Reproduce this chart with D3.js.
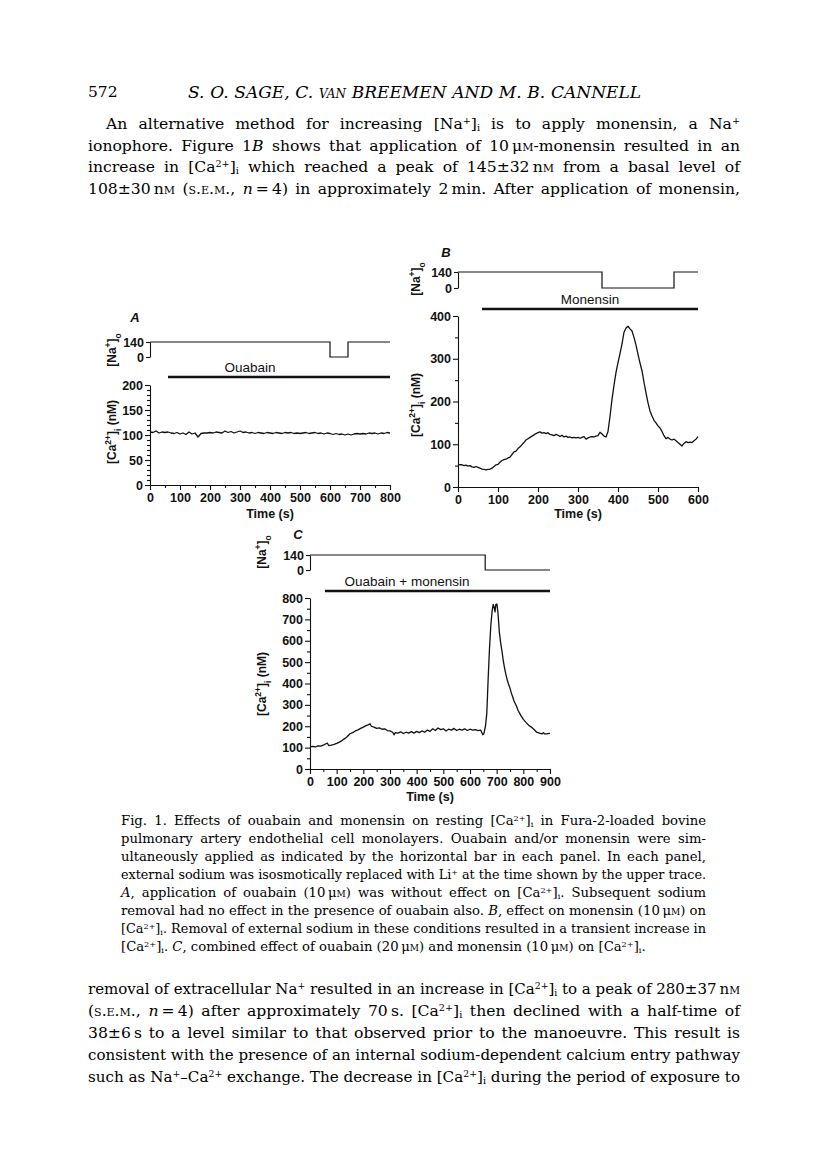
<!DOCTYPE html>
<html><head><meta charset="utf-8">
<script src="https://cdn.jsdelivr.net/npm/d3@7"></script>
<style>
body{margin:0;background:#fff;}
#page{position:relative;width:816px;height:1160px;overflow:hidden;background:#fff;}
.ln{position:absolute;white-space:nowrap;font-family:"DejaVu Serif",serif;color:#000;}
.ln > span{display:inline-block;transform-origin:0 50%;}
.sc{font-variant:small-caps;}
.sup{font-size:0.62em;vertical-align:0.5em;line-height:0;}
.sub{font-size:0.62em;vertical-align:-0.25em;line-height:0;}
svg text{font-family:"Liberation Sans",Arial,sans-serif;fill:#111;}
</style></head>
<body><div id="page"></div>
<script>
// ---------------- DATA ----------------
const caA = [[0,106],[10,105],[20,108],[30,104],[40,106],[50,105],[60,106],[70,104],[80,103],[90,105],[100,102],[110,104],[120,101],[130,106],[140,102],[150,104],[160,96],[170,103],[180,104],[190,104],[200,105],[210,104],[220,106],[230,105],[240,104],[250,108],[260,105],[270,107],[280,104],[290,106],[300,108],[310,105],[320,106],[330,104],[340,105],[350,103],[360,105],[370,104],[380,103],[390,105],[400,104],[410,103],[420,105],[430,104],[440,103],[450,105],[460,104],[470,105],[480,103],[490,104],[500,103],[510,104],[520,105],[530,103],[540,104],[550,105],[560,103],[570,104],[580,102],[590,104],[600,103],[610,101],[620,103],[630,101],[640,102],[650,100],[660,102],[670,100],[680,102],[690,103],[700,102],[710,103],[720,102],[730,104],[740,103],[750,104],[760,102],[770,104],[780,103],[790,105],[800,104]];
const caB = [[0,53],[5,52],[10,52],[15,50],[20,51],[25,49],[30,50],[35,47],[40,46],[45,48],[50,46],[55,44],[60,42],[65,41],[70,40],[75,41],[80,42],[85,44],[90,48],[95,52],[100,53],[105,58],[110,62],[115,64],[120,65],[125,68],[130,70],[135,76],[140,82],[145,84],[150,90],[155,94],[160,99],[165,104],[170,110],[175,113],[180,116],[185,119],[190,122],[195,125],[200,127],[205,129],[210,126],[215,127],[220,125],[225,127],[230,123],[235,122],[240,120],[245,123],[250,121],[255,118],[260,121],[265,117],[270,119],[275,116],[280,117],[285,115],[290,116],[295,115],[300,116],[305,114],[310,116],[315,118],[320,112],[325,115],[330,117],[335,118],[340,117],[345,119],[350,120],[355,128],[360,124],[365,119],[370,117],[375,130],[380,165],[385,205],[390,238],[395,268],[400,291],[405,312],[410,335],[415,362],[420,372],[425,376],[430,370],[435,365],[440,350],[445,332],[450,310],[455,290],[460,272],[465,245],[470,220],[475,197],[480,178],[485,166],[490,156],[495,150],[500,143],[505,138],[510,130],[515,120],[520,113],[525,116],[530,112],[535,110],[540,112],[545,108],[550,104],[555,100],[560,96],[565,102],[570,106],[575,104],[580,105],[585,104],[590,108],[595,112],[600,118]];
const caC = [[0,104],[10,106],[20,103],[30,108],[40,107],[50,112],[60,118],[65,121],[70,110],[80,112],[90,115],[100,120],[110,126],[120,133],[130,142],[140,152],[150,165],[160,170],[170,178],[180,183],[190,190],[200,196],[210,203],[220,208],[225,212],[230,200],[240,196],[250,190],[260,192],[270,186],[280,188],[290,180],[300,178],[310,172],[315,160],[320,170],[330,168],[340,174],[350,166],[360,172],[370,168],[380,175],[390,168],[400,176],[410,170],[420,178],[430,172],[440,182],[450,176],[460,188],[470,180],[480,192],[490,184],[500,188],[510,178],[520,186],[530,182],[540,190],[550,180],[560,186],[570,182],[580,188],[590,180],[600,186],[610,182],[620,184],[630,180],[640,182],[648,160],[652,165],[658,200],[663,260],[668,420],[673,560],[678,670],[683,740],[687,770],[690,760],[694,735],[697,770],[701,772],[705,730],[710,640],[715,590],[720,550],[725,505],[730,470],[735,440],[740,415],[745,395],[750,378],[755,355],[760,338],[765,318],[770,305],[775,292],[780,275],[790,252],[800,232],[810,218],[820,205],[830,196],[840,185],[850,172],[860,168],[870,164],[875,170],[880,164],[890,165],[900,167]];
// external Na+ (mM) step traces: [time, level]
const naA = [[0,140],[600,0],[660,140],[800,140]];
const naB = [[0,140],[360,0],[540,140],[600,140]];
const naC = [[0,140],[657,0],[900,0]];
// drug application bars [start, end] (s)
const barA = [60,800], barB = [60,600], barC = [56,900];
const drugA = "Ouabain", drugB = "Monensin", drugC = "Ouabain + monensin";
// tick values
const xTicksA = [0,100,200,300,400,500,600,700,800], xMinorA = [50,150,250,350,450,550,650,750];
const yTicksA = [0,50,100,150,200], yMinorA = [10,20,30,40,60,70,80,90,110,120,130,140,160,170,180,190];
const xTicksB = [0,100,200,300,400,500,600], xMinorB = [];
const yTicksB = [0,100,200,300,400], yMinorB = [50,150,250,350];
const xTicksC = [0,100,200,300,400,500,600,700,800,900], xMinorC = [50,150,250,350,450,550,650,750,850];
const yTicksC = [0,100,200,300,400,500,600,700,800], yMinorC = [50,150,250,350,450,550,650,750];

// ---------------- PAGE TEXT ----------------
const S = '\u2009';
const nM = 'n<span class="sc">m</span>', uM = 'μ<span class="sc">m</span>';
const Ca = '[Ca<span class="sup">2+</span>]<span class="sub">i</span>';
const Na = 'Na<span class="sup">+</span>';
const sem = '<span class="sc">s.e.m.</span>';
const pm = '±';
const para1 = [
 'An alternative method for increasing [Na<span class="sup">+</span>]<span class="sub">i</span> is to apply monensin, a '+Na,
 'ionophore. Figure 1<i>B</i> shows that application of 10'+S+uM+'-monensin resulted in an',
 'increase in '+Ca+' which reached a peak of 145'+pm+'32'+S+nM+' from a basal level of',
 '108'+pm+'30'+S+nM+' ('+sem+', <i>n</i>'+S+'='+S+'4) in approximately 2'+S+'min. After application of monensin,'
];
const para2 = [
 'removal of extracellular '+Na+' resulted in an increase in '+Ca+' to a peak of 280'+pm+'37'+S+nM,
 '('+sem+', <i>n</i>'+S+'='+S+'4) after approximately 70'+S+'s. '+Ca+' then declined with a half-time of',
 '38'+pm+'6'+S+'s to a level similar to that observed prior to the manoeuvre. This result is',
 'consistent with the presence of an internal sodium-dependent calcium entry pathway',
 'such as Na<span class="sup">+</span>–Ca<span class="sup">2+</span> exchange. The decrease in '+Ca+' during the period of exposure to'
];
const caption = [
 'Fig. 1. Effects of ouabain and monensin on resting '+Ca+' in Fura-2-loaded bovine',
 'pulmonary artery endothelial cell monolayers. Ouabain and/or monensin were sim-',
 'ultaneously applied as indicated by the horizontal bar in each panel. In each panel,',
 'external sodium was isosmotically replaced with Li<span class="sup">+</span> at the time shown by the upper trace.',
 '<i>A</i>, application of ouabain (10'+S+uM+') was without effect on '+Ca+'. Subsequent sodium',
 'removal had no effect in the presence of ouabain also. <i>B</i>, effect on monensin (10'+S+uM+') on',
 Ca+'. Removal of external sodium in these conditions resulted in a transient increase in',
 Ca+'. <i>C</i>, combined effect of ouabain (20'+S+uM+') and monensin (10'+S+uM+') on '+Ca+'.'
];

const page = d3.select('#page');
function addLine(html, left, cy, width, fs, justify, extra){
  const d = page.append('div').attr('class','ln')
    .style('left',left+'px').style('top',(cy-fs*0.62)+'px').style('font-size',fs+'px').style('line-height',(fs*1.2)+'px');
  if(extra) d.style('font-style',extra.italic?'italic':null);
  const sp = d.append('span').html(html);
  const node = sp.node();
  const w = node.getBoundingClientRect().width;
  if(width){
    if(w > width){ sp.style('transform','scaleX('+(width/w)+')'); }
    else if(justify){
      const n = (node.textContent.match(/ /g)||[]).length;
      if(n>0) sp.style('word-spacing',((width-w)/n)+'px');
    }
  }
  return d;
}
para1.forEach((h,i)=> addLine(h, i===0?106:88, 125+i*21.4, i===0?634:652, 15.6, true));
para2.forEach((h,i)=> addLine(h, 88, 990+i*21.8, 652, 15.6, true));
caption.forEach((h,i)=> addLine(h, 121, 821+i*18, 585, 13.2, i<caption.length-1));
addLine('572', 88, 93, null, 15.5, false);
addLine('S. O. SAGE, C. <span class="sc">van</span> BREEMEN AND M. B. CANNELL', 188, 93, 453, 17, true, {italic:true});

// ---------------- CHARTS ----------------
const svg = page.append('svg').attr('width',816).attr('height',1160)
  .style('position','absolute').style('left','0px').style('top','0px');

const panels = [
 {id:'A', xMax:800, yMax:200, left:150, right:390, bottom:485, top:385, na0:357, na140:342,
  ca:caA, na:naA, bar:barA, barY:377, drug:drugA, drugX:250,
  xTicks:xTicksA, xMinor:xMinorA, yTicks:yTicksA, yMinor:yMinorA,
  title:[135,322], naLab:[112,350], caLab:[112,432], timeLab:[270,518]},
 {id:'B', xMax:600, yMax:400, left:458, right:698, bottom:487, top:316, na0:288, na140:272,
  ca:caB, na:naB, bar:barB, barY:309, drug:drugB, drugX:590,
  xTicks:xTicksB, xMinor:xMinorB, yTicks:yTicksB, yMinor:yMinorB,
  title:[446,257], naLab:[416,279], caLab:[416,405], timeLab:[578,518]},
 {id:'C', xMax:900, yMax:800, left:310, right:550, bottom:769, top:598, na0:570, na140:555,
  ca:caC, na:naC, bar:barC, barY:591, drug:drugC, drugX:407,
  xTicks:xTicksC, xMinor:xMinorC, yTicks:yTicksC, yMinor:yMinorC,
  title:[298,539], naLab:[262,552], caLab:[262,684], timeLab:[430,801]}
];

function styleAxis(s){
  s.selectAll('path.domain').attr('stroke','#111').attr('stroke-width',1.1);
  s.selectAll('line').attr('stroke','#111').attr('stroke-width',1.1);
  s.selectAll('text').attr('font-family','"Liberation Sans",Arial,sans-serif')
    .attr('font-size',12.5).attr('font-weight','bold').attr('fill','#111');
}

panels.forEach(p=>{
  const g = svg.append('g').attr('class','panel-'+p.id);
  const x = d3.scaleLinear().domain([0,p.xMax]).range([p.left,p.right]);
  const y = d3.scaleLinear().domain([0,p.yMax]).range([p.bottom,p.top]);
  const yn = d3.scaleLinear().domain([0,140]).range([p.na0,p.na140]);

  // minor ticks
  g.append('g').attr('transform',`translate(${p.left},0)`)
    .call(d3.axisLeft(y).tickValues(p.yMinor).tickSize(3).tickFormat(''))
    .call(s=>s.select('.domain').remove()).call(styleAxis);
  if(p.xMinor.length) g.append('g').attr('transform',`translate(0,${p.bottom})`)
    .call(d3.axisBottom(x).tickValues(p.xMinor).tickSize(3).tickFormat(''))
    .call(s=>s.select('.domain').remove()).call(styleAxis);
  // major axes
  g.append('g').attr('transform',`translate(${p.left},0)`)
    .call(d3.axisLeft(y).tickValues(p.yTicks).tickSize(5).tickSizeOuter(0).tickPadding(2)).call(styleAxis);
  g.append('g').attr('transform',`translate(0,${p.bottom})`)
    .call(d3.axisBottom(x).tickValues(p.xTicks).tickSize(5).tickSizeOuter(0).tickPadding(3)).call(styleAxis);
  // Na axis
  g.append('g').attr('transform',`translate(${p.left},0)`)
    .call(d3.axisLeft(yn).tickValues([0,140]).tickSize(4).tickSizeOuter(0).tickPadding(2)).call(styleAxis);

  // Na trace
  g.append('path').datum(p.na)
    .attr('d', d3.line().curve(d3.curveStepAfter).x(d=>x(d[0])).y(d=>yn(d[1])))
    .attr('fill','none').attr('stroke','#111').attr('stroke-width',1.2);
  // drug bar
  g.append('line').attr('x1',x(p.bar[0])).attr('x2',x(p.bar[1]))
    .attr('y1',p.barY).attr('y2',p.barY).attr('stroke','#111').attr('stroke-width',2.6);
  g.append('text').attr('x',p.drugX).attr('y',p.barY-5).attr('text-anchor','middle')
    .attr('font-size',13.5).text(p.drug);
  // Ca trace
  g.append('path').datum(p.ca)
    .attr('d', d3.line().x(d=>x(d[0])).y(d=>y(d[1])))
    .attr('fill','none').attr('stroke','#111').attr('stroke-width',1.3).attr('stroke-linejoin','round');

  // labels
  g.append('text').attr('x',p.title[0]).attr('y',p.title[1]).attr('text-anchor','middle')
    .attr('font-size',13).attr('font-weight','bold').attr('font-style','italic').text(p.id);
  g.append('text').attr('x',p.timeLab[0]).attr('y',p.timeLab[1]).attr('text-anchor','middle')
    .attr('font-size',12.5).attr('font-weight','bold').text('Time (s)');
  const nl = g.append('text').attr('transform',`translate(${p.naLab[0]},${p.naLab[1]}) rotate(-90)`)
    .attr('dy','0.35em').attr('text-anchor','middle').attr('font-size',12).attr('font-weight','bold');
  nl.append('tspan').text('[Na');
  nl.append('tspan').attr('baseline-shift','super').attr('font-size',8.5).text('+');
  nl.append('tspan').text(']');
  nl.append('tspan').attr('baseline-shift','sub').attr('font-size',8.5).text('o');
  const cl = g.append('text').attr('transform',`translate(${p.caLab[0]},${p.caLab[1]}) rotate(-90)`)
    .attr('dy','0.35em').attr('text-anchor','middle').attr('font-size',12).attr('font-weight','bold');
  cl.append('tspan').text('[Ca');
  cl.append('tspan').attr('baseline-shift','super').attr('font-size',8.5).text('2+');
  cl.append('tspan').text(']');
  cl.append('tspan').attr('baseline-shift','sub').attr('font-size',8.5).text('i');
  cl.append('tspan').text(' (nM)');
});
</script>
</body></html>
